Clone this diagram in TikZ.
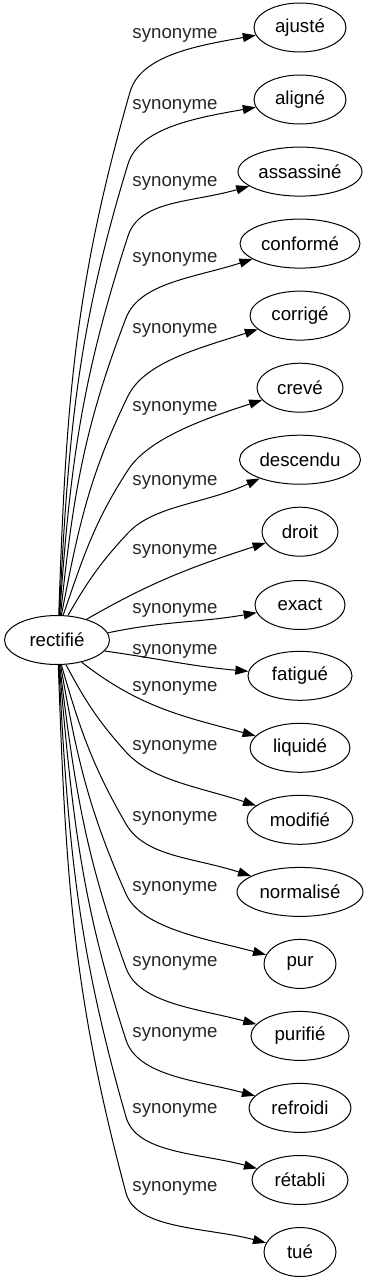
\documentclass[tikz,border=0pt]{standalone}
\usepackage{fontspec}
\setmainfont{Liberation Sans}
\usetikzlibrary{arrows.meta,shapes.geometric}
\begin{document}
\begin{tikzpicture}[x=1pt,y=1pt,
  word/.style={draw, ellipse, line width=1pt, minimum height=49pt, inner sep=1pt,
    font=\fontsize{18.67}{22}\selectfont},
  rel/.style={font=\fontsize{18.67}{22}\selectfont, anchor=base, inner sep=0pt, text=black!85},
  edge/.style={line width=1pt, -{Triangle[length=13pt,width=9pt]}},
  tail/.style={out distance=38pt, in distance=60pt}]
\useasboundingbox (0,0) rectangle (372,-1283);
\node[word, minimum width=105pt] (r) at (57,-640) {rectifié};
\node[word, minimum width=92pt]  (t1)  at (300,-27.5)  {ajusté};
\node[word, minimum width=92pt]  (t2)  at (300,-99.5)  {aligné};
\node[word, minimum width=124pt] (t3)  at (300,-171.6) {assassiné};
\node[word, minimum width=120pt] (t4)  at (300,-243.6) {conformé};
\node[word, minimum width=100pt] (t5)  at (300,-315.6) {corrigé};
\node[word, minimum width=86pt]  (t6)  at (300,-387.7) {crevé};
\node[word, minimum width=121pt] (t7)  at (300,-459.7) {descendu};
\node[word, minimum width=76pt]  (t8)  at (300,-531.7) {droit};
\node[word, minimum width=90pt]  (t9)  at (300,-605)   {exact};
\node[word, minimum width=104pt] (t10) at (300,-675.8) {fatigué};
\node[word, minimum width=100pt] (t11) at (300,-747.8) {liquidé};
\node[word, minimum width=106pt] (t12) at (300,-819.8) {modifié};
\node[word, minimum width=126pt] (t13) at (300,-891.9) {normalisé};
\node[word, minimum width=72pt]  (t14) at (300,-963.9) {pur};
\node[word, minimum width=98pt]  (t15) at (300,-1035.9) {purifié};
\node[word, minimum width=102pt] (t16) at (300,-1107.9) {refroidi};
\node[word, minimum width=96pt]  (t17) at (300,-1180)  {rétabli};
\node[word, minimum width=72pt]  (t18) at (300,-1252)  {tué};
% labels
\foreach \n/\L in {1/33,2/104,3/181,4/257,5/328,6/406,7/480,8/549,9/608,10/649,11/686,12/745,13/816,14/886,15/961,16/1032,17/1108,18/1186}
  \node[rel] (l\n) at (175,-\L-5.5) {synonyme};
% bend coordinates
\coordinate (b1) at (130,-92);
\coordinate (b2) at (128,-164);
\coordinate (b3) at (128,-236);
\coordinate (b4) at (126,-318);
\coordinate (b5) at (128,-396);
\coordinate (b6) at (128,-470);
\coordinate (b7) at (128,-533);
\coordinate (b12) at (126,-752);
\coordinate (b13) at (126,-824);
\coordinate (b14) at (126,-894);
\coordinate (b15) at (126,-968);
\coordinate (b16) at (126,-1040);
\coordinate (b17) at (126,-1117);
\coordinate (b18) at (126,-1193);
% upward edges
\draw[edge] (r.86) to[out=88,in=254] (b1) to[tail,out=74,in=190] (t1);
\draw[edge] (r.85) to[out=87,in=253] (b2) to[tail,out=73,in=190] (t2);
\draw[edge] (r.84) to[out=86,in=252] (b3) to[tail,out=72,in=196] (t3);
\draw[edge] (r.82) to[out=84,in=249] (b4) to[tail,out=69,in=198] (t4);
\draw[edge] (r.80) to[out=79,in=244] (b5) to[tail,out=64,in=198] (t5);
\draw[edge] (r.76) to[out=71,in=237] (b6) to[tail,out=57,in=198] (t6);
\draw[edge] (r.66) to[out=60,in=227] (b7) to[tail,out=47,in=205] (t7);
% near edges
\draw[edge] (r.35) to[out=30,in=198] (t8);
\draw[edge] (r.8) to[out=12,in=190] (t9);
\draw[edge] (r.-13) to[out=-8,in=175] (t10);
\draw[edge] (r.-42) to[out=-38,in=165] (t11);
% downward edges
\draw[edge] (r.-70) to[out=-62,in=132] (b12) to[tail,out=-48,in=162] (t12);
\draw[edge] (r.-80) to[out=-74,in=120] (b13) to[tail,out=-60,in=162] (t13);
\draw[edge] (r.-82) to[out=-80,in=114] (b14) to[tail,out=-66,in=165] (t14);
\draw[edge] (r.-84) to[out=-83,in=110] (b15) to[tail,out=-70,in=165] (t15);
\draw[edge] (r.-85) to[out=-85,in=108] (b16) to[tail,out=-72,in=165] (t16);
\draw[edge] (r.-86) to[out=-87,in=106] (b17) to[tail,out=-74,in=165] (t17);
\draw[edge] (r.-87) to[out=-88,in=105] (b18) to[tail,out=-75,in=165] (t18);
\end{tikzpicture}
\end{document}
